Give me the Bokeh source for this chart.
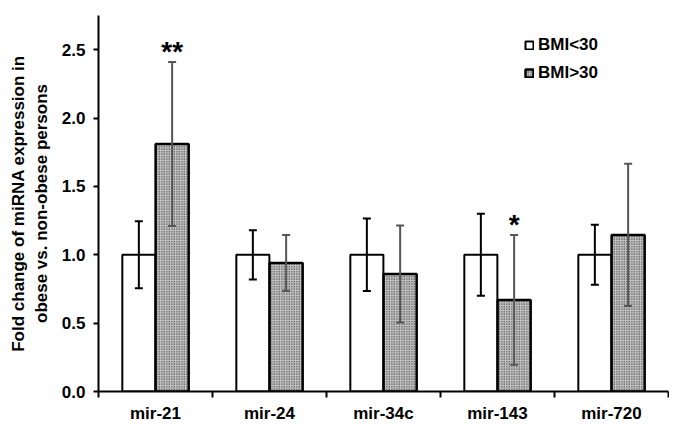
from bokeh.plotting import figure
from bokeh.models import (Range1d, FixedTicker, ColumnDataSource, Whisker, TeeHead,
                          Legend, LegendItem)
from bokeh.core.properties import value
from bokeh.embed import file_html
from bokeh.resources import INLINE

categories = ["mir-21", "mir-24", "mir-34c", "mir-143", "mir-720"]
bmi_low = [1.0, 1.0, 1.0, 1.0, 1.0]
bmi_low_err = [0.245, 0.18, 0.265, 0.30, 0.22]
bmi_high = [1.81, 0.94, 0.86, 0.67, 1.145]
bmi_high_err = [0.60, 0.205, 0.355, 0.475, 0.52]
significance = ["**", "", "", "*", ""]
y_ticks = [0.0, 0.5, 1.0, 1.5, 2.0, 2.5]

FONT = "Liberation Sans"
off = 0.146
bw = 0.29

centers = [i + 0.5 for i in range(len(categories))]
x_low = [c - off for c in centers]
x_high = [c + off for c in centers]

src_low = ColumnDataSource(dict(x=x_low, top=bmi_low,
                                upper=[v + e for v, e in zip(bmi_low, bmi_low_err)],
                                lower=[v - e for v, e in zip(bmi_low, bmi_low_err)]))
src_high = ColumnDataSource(dict(x=x_high, top=bmi_high,
                                 upper=[v + e for v, e in zip(bmi_high, bmi_high_err)],
                                 lower=[v - e for v, e in zip(bmi_high, bmi_high_err)]))

p = figure(width=669, height=425, output_backend="svg", toolbar_location=None,
           x_range=Range1d(0, 5), y_range=Range1d(0, 2.75),
           min_border_left=98, min_border_right=1, min_border_top=15, min_border_bottom=30)
p.outline_line_color = None
p.grid.visible = False
p.background_fill_color = "white"

r_low = p.vbar(x="x", top="top", width=bw, bottom=0, source=src_low,
               fill_color="white", line_color="black", line_width=2)
r_high = p.vbar(x="x", top="top", width=bw, bottom=0, source=src_high,
                fill_color="#c4c4c4", line_color="black", line_width=2.5,
                hatch_pattern="dot", hatch_color="#1a1a1a", hatch_scale=2.5, hatch_weight=1.2)

w_low = Whisker(base="x", upper="upper", lower="lower", source=src_low, level="overlay",
                line_color="black", line_width=2,
                upper_head=TeeHead(size=8, line_color="black", line_width=2),
                lower_head=TeeHead(size=8, line_color="black", line_width=2))
w_high = Whisker(base="x", upper="upper", lower="lower", source=src_high, level="overlay",
                 line_color="#555555", line_width=2,
                 upper_head=TeeHead(size=8, line_color="#555555", line_width=2),
                 lower_head=TeeHead(size=8, line_color="#555555", line_width=2))
p.add_layout(w_low)
p.add_layout(w_high)

sx = [x for x, s in zip(x_high, significance) if s]
sy = [v + e + 0.075 for v, e, s in zip(bmi_high, bmi_high_err, significance) if s]
st = [s for s in significance if s]
p.text(x=sx, y=sy, text=st, text_align="center", text_baseline="middle",
       text_font=value(FONT), text_font_size="28px", text_font_style="bold",
       text_color="black")

# axes
yax = p.yaxis[0]
yax.ticker = FixedTicker(ticks=y_ticks)
yax.major_label_overrides = {t: f"{t:.1f}" for t in y_ticks}
yax.minor_tick_line_color = None
yax.major_tick_in = 0
yax.major_tick_out = 5
yax.major_tick_line_width = 2
yax.axis_line_width = 2
yax.major_label_text_font = FONT
yax.major_label_text_font_style = "bold"
yax.major_label_text_font_size = "17px"
yax.major_label_text_color = "black"
yax.major_label_standoff = 8
yax.axis_label = "Fold change of miRNA expression in\nobese vs. non-obese persons"
yax.axis_label_text_font = FONT
yax.axis_label_text_font_style = "bold"
yax.axis_label_text_font_size = "17px"
yax.axis_label_text_color = "black"
yax.axis_label_standoff = 8

xax = p.xaxis[0]
xax.ticker = FixedTicker(ticks=centers, minor_ticks=list(range(len(categories) + 1)))
xax.major_label_overrides = {c: n for c, n in zip(centers, categories)}
xax.major_tick_in = 0
xax.major_tick_out = 0
xax.minor_tick_in = 0
xax.minor_tick_out = 6
xax.minor_tick_line_width = 2
xax.minor_tick_line_color = "black"
xax.axis_line_width = 2
xax.major_label_text_font = FONT
xax.major_label_text_font_style = "bold"
xax.major_label_text_font_size = "17px"
xax.major_label_text_color = "black"
xax.major_label_standoff = 6

legend = Legend(items=[LegendItem(label="BMI<30", renderers=[r_low]),
                       LegendItem(label="BMI>30", renderers=[r_high])],
                location=(426, 308), orientation="vertical",
                glyph_width=10, glyph_height=10, label_height=20, spacing=8,
                padding=0, margin=0, label_standoff=4,
                label_text_font=FONT, label_text_font_style="bold",
                label_text_font_size="17px", label_text_color="black",
                border_line_color=None, background_fill_alpha=0)
p.add_layout(legend)

open("out.html", "w").write(file_html(p, INLINE))
